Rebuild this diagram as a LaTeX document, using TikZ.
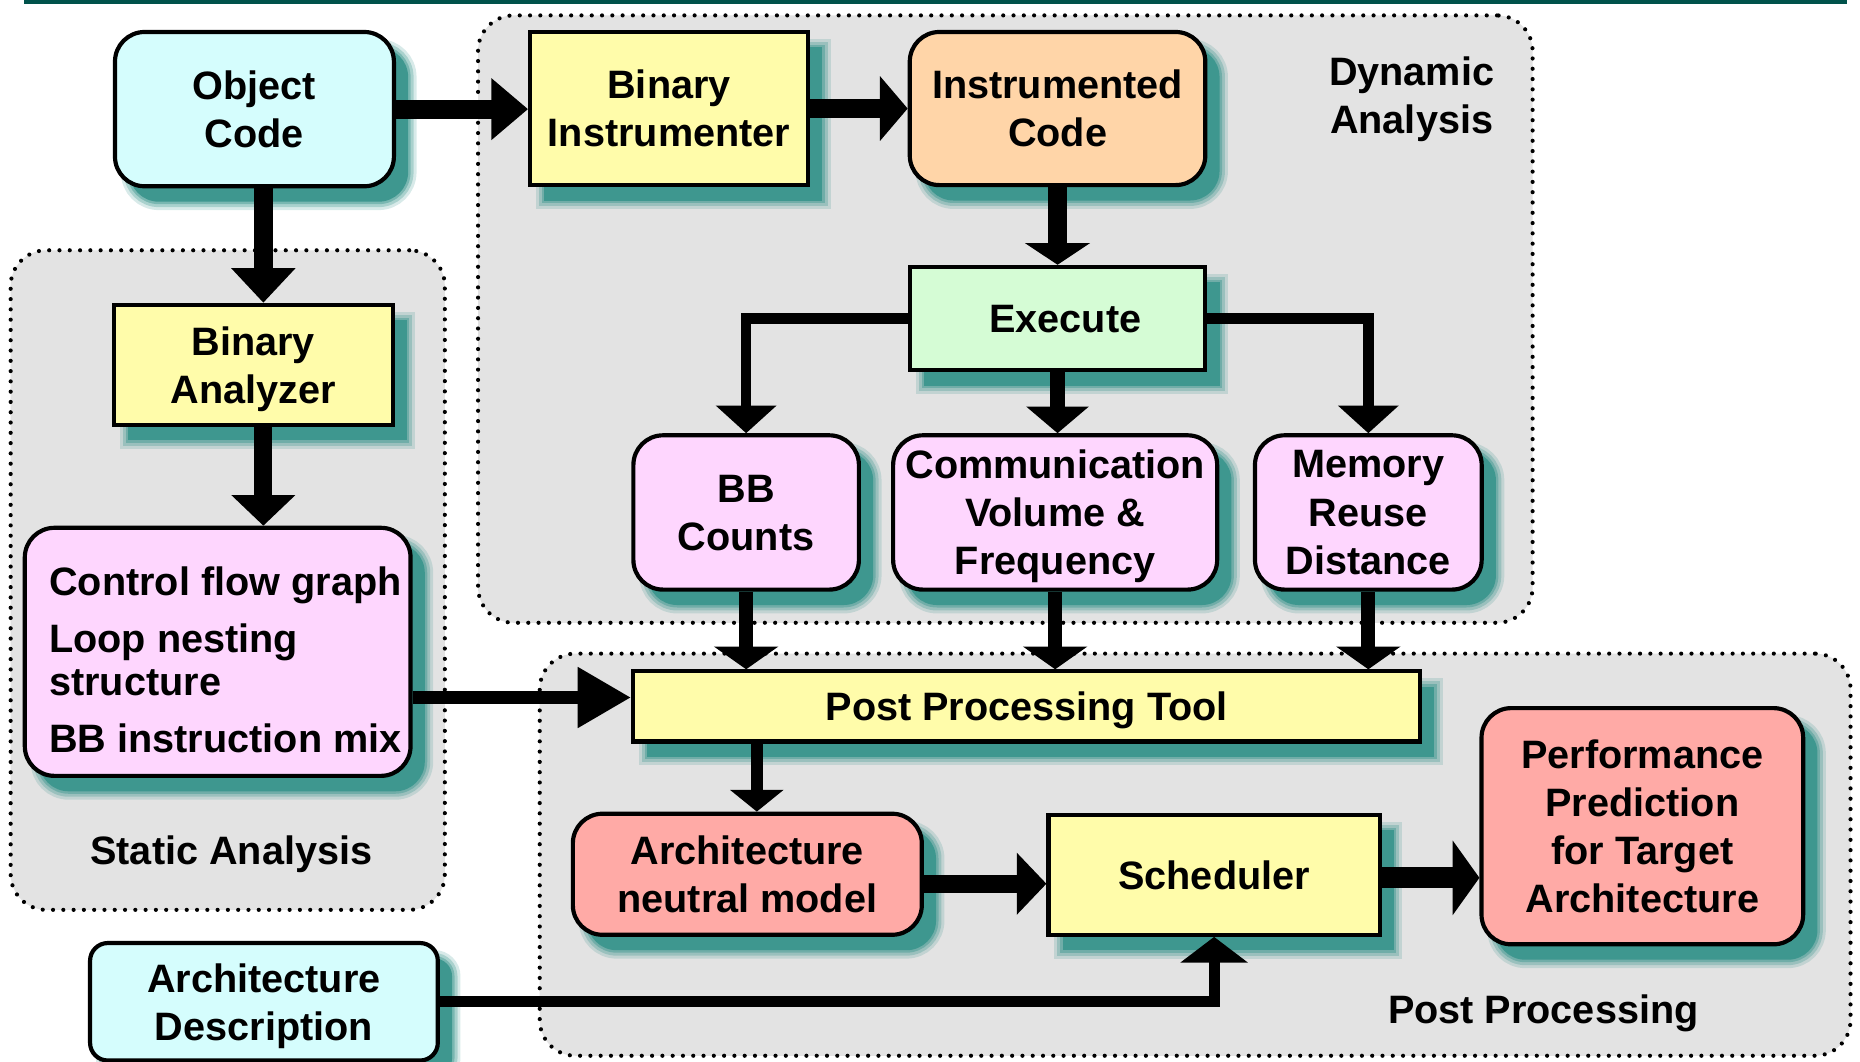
\documentclass[tikz,border=0pt]{standalone}
\usepackage{fontspec}
\setmainfont{Liberation Sans}
\usetikzlibrary{arrows.meta,shadows,fit}

\definecolor{topc}{HTML}{00524B}
\definecolor{groupc}{HTML}{E3E3E3}
\definecolor{shadowc}{HTML}{3E978F}
\definecolor{cyanc}{HTML}{D5FDFD}
\definecolor{yelc}{HTML}{FFFCAA}
\definecolor{peachc}{HTML}{FFD5A8}
\definecolor{greenc}{HTML}{D5FCD5}
\definecolor{pinkc}{HTML}{FED6FE}
\definecolor{salmonc}{HTML}{FFAAA6}

\newcommand\diagfont{\fontsize{11.4pt}{13.85pt}\selectfont\bfseries}

\tikzset{
  softshadow/.style={
    drop shadow={shadow xshift=0.144cm, shadow yshift=-0.156cm, opacity=0.2, fill=none, draw=shadowc, line width=0.17cm},
    drop shadow={shadow xshift=0.144cm, shadow yshift=-0.156cm, opacity=0.3, fill=none, draw=shadowc, line width=0.11cm},
    drop shadow={shadow xshift=0.144cm, shadow yshift=-0.156cm, opacity=0.45, fill=none, draw=shadowc, line width=0.05cm},
    drop shadow={shadow xshift=0.144cm, shadow yshift=-0.156cm, opacity=1, fill=shadowc, draw=none}
  },
  sbox/.style 2 args={draw=black, line width=1.2pt, inner sep=0pt, align=center, font=\diagfont,
    text depth=0pt, minimum width=#1, minimum height=#2, softshadow},
  rbox/.style 2 args={sbox={#1}{#2}, rounded corners=0.3cm},
  group/.style={draw=black, fill=groupc, line width=0.042cm, dash pattern=on 0pt off 0.104cm,
    line cap=round, rounded corners=0.36cm, inner sep=0pt},
  grouplabel/.style={align=center, font=\diagfont, inner sep=0pt},
  infotext/.style={align=left, font=\diagfont, inner sep=0pt, anchor=base west},
  conn/.style={draw=black, line cap=butt, line join=miter},
  head/.style 2 args={-{Triangle[length=#1,width=#2]}}
}

\begin{document}
\begin{tikzpicture}[x=0.012cm, y=-0.012cm]
\useasboundingbox (0,0) rectangle (1568,895);

% rule along the top edge
\fill[topc] (20,0) rectangle (1557,3);

% analysis phases
\node[group, fit={(403,13)(1292,525)}] (dyn) {};
\node[group, fit={(9,211)(375,767)}] (stat) {};
\node[group, fit={(455,551)(1560,890)}] (post) {};
\node[grouplabel] (dynlbl) at (1190,84) {Dynamic\\Analysis};
\node[grouplabel] (statlbl) at (195,720) {Static Analysis};
\node[grouplabel] (postlbl) at (1301,854) {Post Processing};

% tool chain
\node[rbox={2.82cm}{1.56cm}, fill=cyanc] (oc) at (214.5,92) {Object\\Code};
\node[sbox={2.808cm}{1.548cm}, fill=yelc] (bi) at (564,91.5) {Binary\\Instrumenter};
\node[rbox={2.988cm}{1.548cm}, fill=peachc] (ic) at (891.5,91.5) {Instrumented\\Code};
\node[sbox={2.988cm}{1.044cm}, fill=greenc] (ex) at (891.5,268.5) {\hspace*{0.16cm}Execute};
\node[rbox={2.28cm}{1.56cm}, fill=pinkc] (bb) at (629,432) {BB\\Counts};
\node[rbox={3.276cm}{1.56cm}, fill=pinkc] (cv) at (889.5,432) {Communication\\Volume \&\\Frequency};
\node[rbox={2.292cm}{1.56cm}, fill=pinkc] (mr) at (1153.5,432) {Memory\\Reuse\\Distance};
\node[sbox={2.82cm}{1.212cm}, fill=yelc] (ba) at (213.5,307.5) {Binary\\Analyzer};
\node[rbox={3.9cm}{2.508cm}, fill=pinkc] (sinfo) at (183.5,549.5) {};
\node[infotext] (cfg) at (41,502) {Control flow graph};
\node[infotext, font=\fontsize{11.4pt}{12.3pt}\selectfont\bfseries] (loop) at (41,586) {Loop nesting\\structure};
\node[infotext] (mix) at (41,634) {BB instruction mix};
\node[sbox={7.956cm}{0.708cm}, fill=yelc] (ppt) at (865.5,595.5) {Post Processing Tool};
\node[rbox={3.528cm}{1.224cm}, fill=salmonc] (anm) at (630,737) {Architecture\\neutral model};
\node[sbox={3.348cm}{1.212cm}, fill=yelc] (sch) at (1023.5,737.5) {Scheduler};
\node[rbox={3.252cm}{2.388cm}, fill=salmonc] (perf) at (1384.5,696.5) {Performance\\Prediction\\for Target\\Architecture};
\node[rbox={3.516cm}{1.188cm}, fill=cyanc, rounded corners=0.18cm] (ad) at (222.5,844.5) {Architecture\\Description};

% lanes for the connectors
\coordinate (colA) at (222,0);
\coordinate (colP) at (638,0);
\coordinate (rowT) at (0,588);
\coordinate (rowS) at (0,745);
\coordinate (rowE) at (0,740);

% connectors
\draw[conn, line width=0.192cm, head={0.37cm}{0.6cm}] (oc.east) -- (oc.east -| bi.west);
\draw[conn, line width=0.192cm, head={0.28cm}{0.64cm}] (bi.east) -- (bi.east -| ic.west);
\draw[conn, line width=0.192cm, head={0.22cm}{0.65cm}] (ic.south) -- (ic.south |- ex.north);
\draw[conn, line width=0.192cm, head={0.35cm}{0.63cm}] (oc.south -| colA) -- (ba.north -| colA);
\draw[conn, line width=0.18cm, head={0.31cm}{0.63cm}] (ba.south -| colA) -- (sinfo.north -| colA);
\draw[conn, line width=0.108cm, head={0.28cm}{0.6cm}] (ex.west) -| (bb.north);
\draw[conn, line width=0.16cm, head={0.27cm}{0.62cm}] (ex.south) -- (ex.south |- cv.north);
\draw[conn, line width=0.108cm, head={0.28cm}{0.6cm}] (ex.east) -| (mr.north);
\draw[conn, line width=0.144cm, head={0.23cm}{0.64cm}] (bb.south) -- (bb.south |- ppt.north);
\draw[conn, line width=0.144cm, head={0.23cm}{0.64cm}] (cv.south) -- (cv.south |- ppt.north);
\draw[conn, line width=0.144cm, head={0.23cm}{0.64cm}] (mr.south) -- (mr.south |- ppt.north);
\draw[conn, line width=0.132cm, head={0.54cm}{0.58cm}] (sinfo.east |- rowT) -- (ppt.west |- rowT);
\draw[conn, line width=0.126cm, head={0.22cm}{0.53cm}] (ppt.south -| colP) -- (anm.north -| colP);
\draw[conn, line width=0.186cm, head={0.3cm}{0.61cm}] (anm.east |- rowS) -- (sch.west |- rowS);
\draw[conn, line width=0.21cm, head={0.27cm}{0.74cm}] (sch.east |- rowE) -- (perf.west |- rowE);
\draw[conn, line width=0.112cm, head={0.26cm}{0.67cm}] (ad.east) -| (sch.south);
\end{tikzpicture}
\end{document}
